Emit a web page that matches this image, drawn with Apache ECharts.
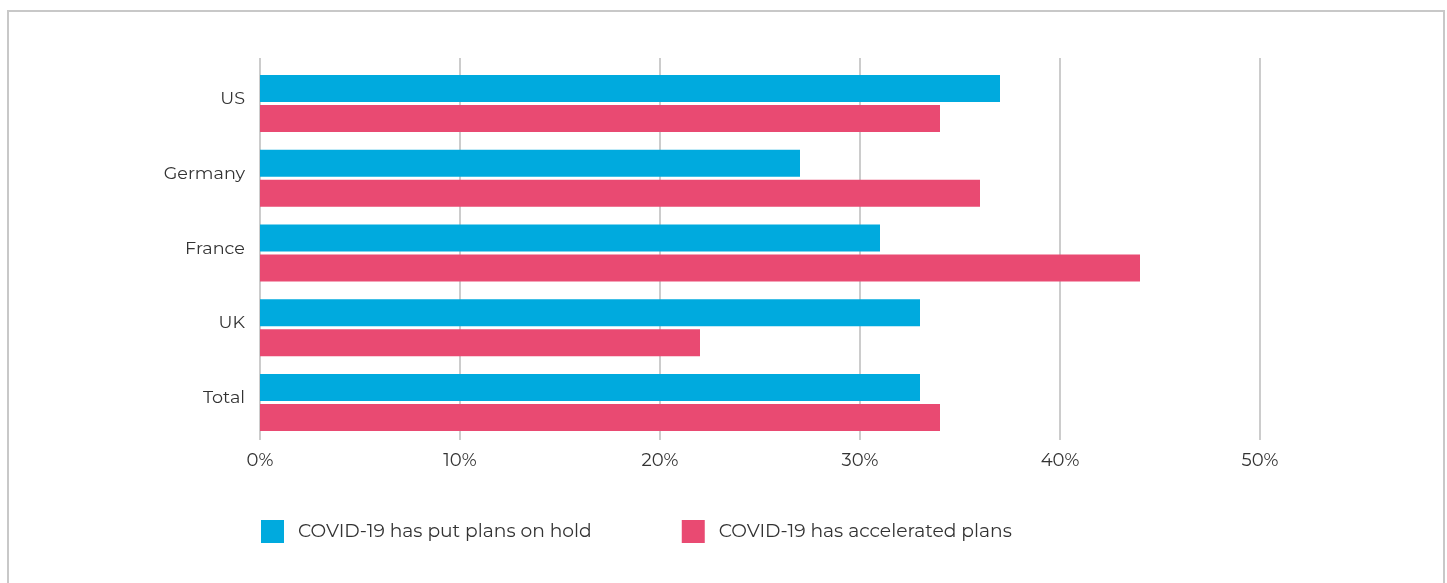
<!DOCTYPE html>
<html>
<head>
<meta charset="utf-8">
<script src="https://cdn.jsdelivr.net/npm/echarts@6/dist/echarts.min.js"></script>
<style>
  html, body { margin: 0; padding: 0; background: #fff; }
  #chart { width: 1447px; height: 583px; }
</style>
</head>
<body>
<div id="chart"></div>
<script>
// Share of respondents by country
const categories = ['US', 'Germany', 'France', 'UK', 'Total'];
const onHold = [37, 27, 31, 33, 33];
const accelerated = [34, 36, 44, 22, 34];
const seriesNames = ['COVID-19 has put plans on hold', 'COVID-19 has accelerated plans'];
const colors = ['#00AADE', '#E94A72'];

const font = 'Montserrat, "Open Sans", Lato, sans-serif';
const textColor = '#333333';
const lineColor = '#cccccc';

const chart = echarts.init(document.getElementById('chart'), null, { renderer: 'canvas' });

chart.setOption({
  animation: false,
  textStyle: { fontFamily: font },
  graphic: [{
    type: 'rect',
    shape: { x: 8, y: 11, width: 1436, height: 600 },
    style: { fill: 'none', stroke: '#c8c8c8', lineWidth: 2 },
    silent: true
  }],
  legend: {
    left: 261,
    top: 520,
    padding: 0,
    itemWidth: 23,
    itemHeight: 23,
    itemGap: 90,
    icon: 'rect',
    textStyle: { fontSize: 18.7, color: textColor, fontFamily: font, padding: [0, 0, 0, 9] },
    data: seriesNames
  },
  grid: [
    // gridlines and percentage labels
    { left: 260, right: 187, top: 58, bottom: 143 },
    // bars
    { left: 260, right: 187, top: 66, bottom: 143 }
  ],
  xAxis: [{
    gridIndex: 0,
    type: 'value',
    min: 0, max: 50, interval: 10,
    axisLine: { show: false },
    axisTick: { show: false },
    splitLine: { show: true, lineStyle: { color: lineColor, width: 2 } },
    axisLabel: { formatter: '{value}%', fontSize: 18, color: textColor, margin: 12, fontFamily: font }
  }, {
    gridIndex: 1,
    type: 'value',
    min: 0, max: 50, interval: 10,
    show: false
  }],
  yAxis: [{
    gridIndex: 0,
    type: 'category',
    data: categories,
    show: false
  }, {
    gridIndex: 1,
    type: 'category',
    inverse: true,
    data: categories,
    axisLine: { show: false },
    axisTick: { show: false },
    splitLine: { show: false },
    axisLabel: {
      fontSize: 17.6, color: textColor, margin: 15, fontFamily: font,
      // category names sit slightly above the middle of each pair of bars
      verticalAlign: 'bottom', lineHeight: 9
    }
  }],
  series: [{
    name: seriesNames[0],
    type: 'bar',
    xAxisIndex: 1, yAxisIndex: 1,
    data: onHold,
    barWidth: 27,
    barGap: '11%',
    itemStyle: { color: colors[0] }
  }, {
    name: seriesNames[1],
    type: 'bar',
    xAxisIndex: 1, yAxisIndex: 1,
    data: accelerated,
    barWidth: 27,
    barGap: '11%',
    itemStyle: { color: colors[1] }
  }]
});
</script>
</body>
</html>
